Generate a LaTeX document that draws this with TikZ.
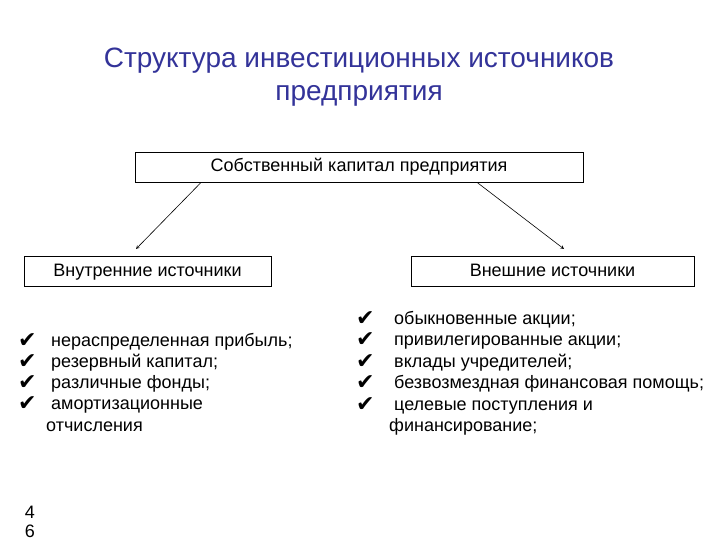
\documentclass[tikz,border=0pt]{standalone}
\usepackage{fontspec}
\setmainfont{Liberation Sans}
\newfontfamily\chkfont{DejaVu Sans}
\usepackage{tikz}
\usetikzlibrary{arrows}

\tikzset{
  srcbox/.style={draw, line width=0.7pt, minimum height=30pt, inner sep=0pt, text height=13pt, text depth=4pt, font=\fontsize{18}{20}\selectfont},
  item/.style={anchor=base west, inner sep=0pt, font=\fontsize{18}{20}\selectfont},
  tick/.style={anchor=base west, inner sep=0pt, font=\chkfont\fontsize{22}{20}\selectfont}
}

\begin{document}
\begin{tikzpicture}[x=1pt,y=-1pt]
\useasboundingbox (0,0) rectangle (720,540);
\definecolor{titleblue}{RGB}{51,51,153}
\node[align=center, text=titleblue, font=\fontsize{28}{33}\selectfont] (title) at (359,77) {Структура инвестиционных источников\\предприятия};
\node[srcbox, minimum width=448pt] (own) at (359,167.5) {Собственный капитал предприятия};
\node[srcbox, minimum width=247pt] (inner) at (147.5,271.5) {Внутренние источники};
\node[srcbox, minimum width=283pt] (outer) at (552.5,271.5) {Внешние источники};
\draw[-stealth, line width=0.6pt] (own.south west) ++(66,0) coordinate (a1) -- (136,249) coordinate (a2);
\draw[-stealth, line width=0.6pt] (own.south west) ++(343,0) coordinate (b1) -- (564,249) coordinate (b2);
% left list
\node[tick] (t1) at (18,347) {✔};
\node[item] (l1) at (51,346) {нераспределенная прибыль;};
\node[tick] (t2) at (18,368) {✔};
\node[item] (l2) at (51,367) {резервный капитал;};
\node[tick] (t3) at (18,389) {✔};
\node[item] (l3) at (51,388) {различные фонды;};
\node[tick] (t4) at (18,410) {✔};
\node[item] (l4) at (51,409) {амортизационные};
\node[item] (l5) at (46,431) {отчисления};
% right list
\node[tick] (r1) at (356,325) {✔};
\node[item] (m1) at (394,324) {обыкновенные акции;};
\node[tick] (r2) at (356,346) {✔};
\node[item] (m2) at (394,345) {привилегированные акции;};
\node[tick] (r3) at (356,368) {✔};
\node[item] (m3) at (394,367) {вклады учредителей;};
\node[tick] (r4) at (356,389) {✔};
\node[item] (m4) at (394,388) {безвозмездная финансовая помощь;};
\node[tick] (r5) at (356,411) {✔};
\node[item] (m5) at (394,410) {целевые поступления и};
\node[item] (m6) at (389,431) {финансирование;};
% page number
\node[font=\fontsize{18}{20}\selectfont, align=center, inner sep=0pt] (page) at (30,522) {4\\[-1pt]6};
\end{tikzpicture}
\end{document}
